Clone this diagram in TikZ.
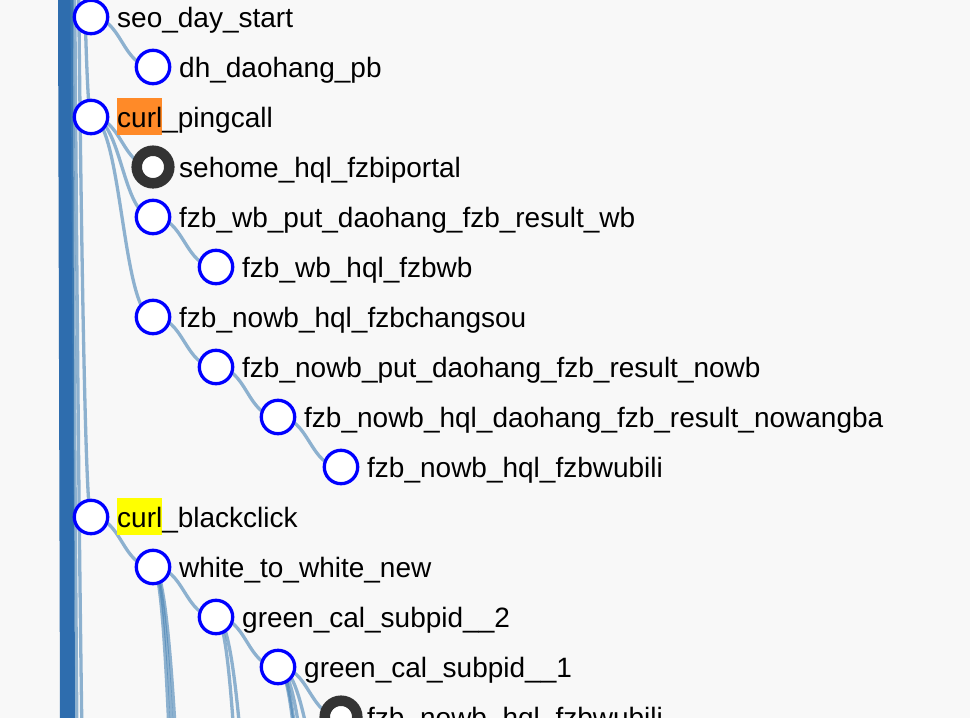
\documentclass[tikz,border=0pt]{standalone}
\usepackage{fontspec}
\setmainfont{Liberation Sans}
\usetikzlibrary{calc}
\definecolor{bgc}{RGB}{248,248,248}
\definecolor{linkc}{RGB}{70,130,180}
\definecolor{barc}{RGB}{46,109,174}
\definecolor{nodeblue}{RGB}{0,0,255}
\definecolor{ringc}{RGB}{51,51,51}
\definecolor{hlorange}{RGB}{255,138,40}
\definecolor{hlyellow}{RGB}{255,255,0}
\setlength{\fboxsep}{0pt}
\newcommand{\hlbox}[2]{\colorbox{#1}{\rule[-8pt]{0pt}{37pt}#2}}
\newcommand{\hlink}[2]{\draw[link] (#1) .. controls ($(#1)!0.5!(#2|-#1)$) and ($(#2)!0.5!(#1|-#2)$) .. (#2);}
\begin{document}
\begin{tikzpicture}[x=1pt,y=-1pt,
 link/.style={draw=linkc, draw opacity=0.6, line width=3.3pt},
 leaf/.style={circle, draw=nodeblue, fill=white, line width=3.3pt, minimum size=33.4pt, inner sep=0pt},
 darkring/.style={circle, draw=ringc, fill=white, line width=10.5pt, minimum size=32.6pt, inner sep=0pt},
 lbl/.style={anchor=base west, inner sep=0pt, font=\fontsize{28}{34}\selectfont, text=black}]
\useasboundingbox (0,0) rectangle (970,718);
\fill[bgc] (0,0) rectangle (970,718);
% centres
\coordinate (n1) at (91,17);
\coordinate (n2) at (153,67);
\coordinate (n3) at (91,117);
\coordinate (n4) at (153,167);
\coordinate (n5) at (153,217);
\coordinate (n6) at (216,267);
\coordinate (n7) at (153,317);
\coordinate (n8) at (216,367);
\coordinate (n9) at (278,417);
\coordinate (n10) at (341,467);
\coordinate (n11) at (91,517);
\coordinate (n12) at (153,567);
\coordinate (n13) at (216,617);
\coordinate (n14) at (278,667);
\coordinate (n15) at (341,717);
% off-picture ends
\coordinate (root) at (28,-8000);
\coordinate (r1) at (91,1017);
\coordinate (r2) at (91,1517);
\coordinate (w1) at (216,1267);
\coordinate (w2) at (216,1567);
\coordinate (w3) at (216,2067);
\coordinate (g1) at (278,1017);
\coordinate (g2) at (278,1417);
\coordinate (h1) at (341,817);
\coordinate (h2) at (341,967);
\coordinate (h3) at (341,1167);
\coordinate (h4) at (341,1267);
\coordinate (bartop) at (65.5,-5);
\coordinate (barbot) at (67.5,723);
% trunk bundle
\draw[barc, line width=15pt] (bartop) -- (barbot);
% links from the root above
\hlink{root}{n1}
\hlink{root}{n3}
\hlink{root}{n11}
\hlink{root}{r1}
\hlink{root}{r2}
% tree links
\hlink{n1}{n2}
\hlink{n3}{n4}
\hlink{n3}{n5}
\hlink{n5}{n6}
\hlink{n3}{n7}
\hlink{n7}{n8}
\hlink{n8}{n9}
\hlink{n9}{n10}
\hlink{n11}{n12}
\hlink{n12}{n13}
\hlink{n13}{n14}
\hlink{n14}{n15}
\hlink{n12}{w1}
\hlink{n12}{w2}
\hlink{n12}{w3}
\hlink{n13}{g1}
\hlink{n13}{g2}
\hlink{n14}{h1}
\hlink{n14}{h2}
\hlink{n14}{h3}
\hlink{n14}{h4}
% circles
\node[leaf] (c1) at (n1) {};
\node[leaf] (c2) at (n2) {};
\node[leaf] (c3) at (n3) {};
\node[darkring] (c4) at (n4) {};
\node[leaf] (c5) at (n5) {};
\node[leaf] (c6) at (n6) {};
\node[leaf] (c7) at (n7) {};
\node[leaf] (c8) at (n8) {};
\node[leaf] (c9) at (n9) {};
\node[leaf] (c10) at (n10) {};
\node[leaf] (c11) at (n11) {};
\node[leaf] (c12) at (n12) {};
\node[leaf] (c13) at (n13) {};
\node[leaf] (c14) at (n14) {};
\node[darkring] (c15) at (n15) {};
% labels
\node[lbl] (l1) at ($(n1)+(26,10)$) {seo\_day\_start};
\node[lbl] (l2) at ($(n2)+(26,10)$) {dh\_daohang\_pb};
\node[lbl] (l3) at ($(n3)+(26,10)$) {\hlbox{hlorange}{curl}\_pingcall};
\node[lbl] (l4) at ($(n4)+(26,10)$) {sehome\_hql\_fzbiportal};
\node[lbl] (l5) at ($(n5)+(26,10)$) {fzb\_wb\_put\_daohang\_fzb\_result\_wb};
\node[lbl] (l6) at ($(n6)+(26,10)$) {fzb\_wb\_hql\_fzbwb};
\node[lbl] (l7) at ($(n7)+(26,10)$) {fzb\_nowb\_hql\_fzbchangsou};
\node[lbl] (l8) at ($(n8)+(26,10)$) {fzb\_nowb\_put\_daohang\_fzb\_result\_nowb};
\node[lbl] (l9) at ($(n9)+(26,10)$) {fzb\_nowb\_hql\_daohang\_fzb\_result\_nowangba};
\node[lbl] (l10) at ($(n10)+(26,10)$) {fzb\_nowb\_hql\_fzbwubili};
\node[lbl] (l11) at ($(n11)+(26,10)$) {\hlbox{hlyellow}{curl}\_blackclick};
\node[lbl] (l12) at ($(n12)+(26,10)$) {white\_to\_white\_new};
\node[lbl] (l13) at ($(n13)+(26,10)$) {green\_cal\_subpid\_\_2};
\node[lbl] (l14) at ($(n14)+(26,10)$) {green\_cal\_subpid\_\_1};
\node[lbl] (l15) at ($(n15)+(26,10)$) {fzb\_nowb\_hql\_fzbwubili};
\end{tikzpicture}
\end{document}
